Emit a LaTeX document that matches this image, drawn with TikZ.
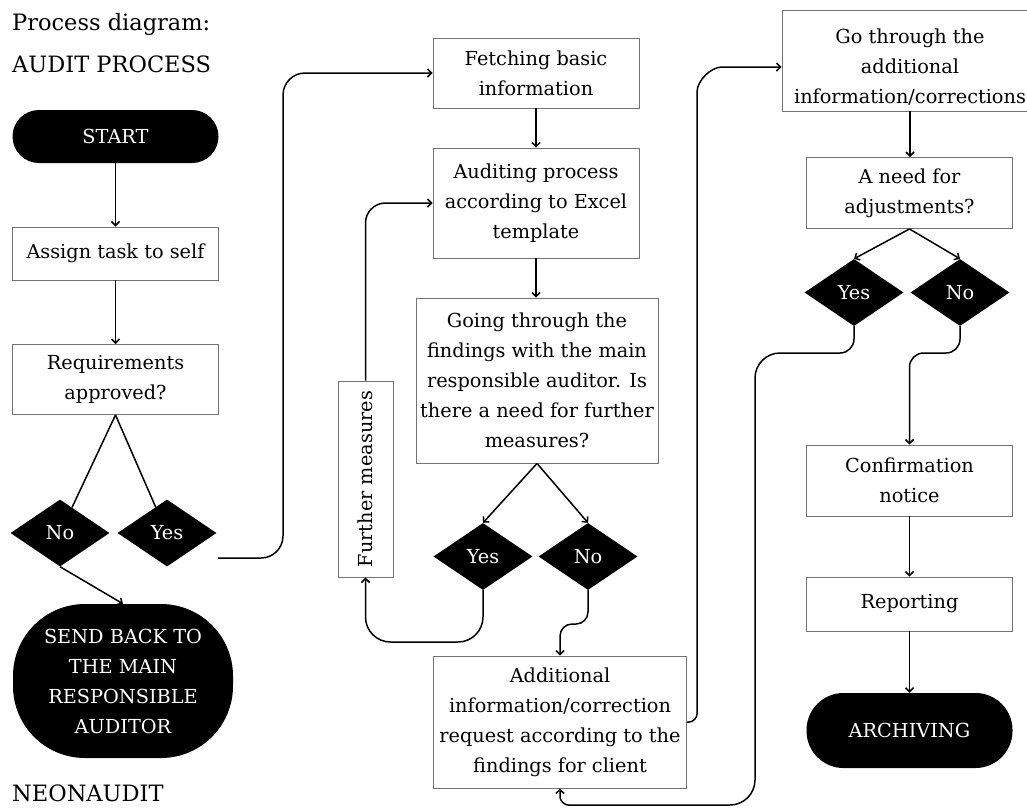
\documentclass[tikz,border=0pt]{standalone}
\usepackage{fontspec}
\setmainfont{DejaVu Serif}
\usetikzlibrary{shapes.geometric,arrows.meta,calc}

\begin{document}
\begin{tikzpicture}[x=1pt,y=-1pt,
  body/.style={font=\fontsize{19.3}{30}\selectfont},
  box/.style={body, draw=black!55, line width=0.9pt, fill=white, inner sep=0pt, align=center},
  term/.style={body, fill=black, text=white, inner sep=0pt, align=center},
  choice/.style={body, diamond, fill=black, text=white, inner sep=0pt,
    minimum width=99pt, minimum height=67pt},
  flow/.style={line width=1.5pt, -{Straight Barb[length=4pt,width=8pt]}},
  link/.style={line width=1.5pt},
  heading/.style={anchor=base west, inner sep=0pt, font=\fontsize{22.5}{26}\selectfont}
]
\useasboundingbox (0,0) rectangle (1027,807);

% headings
\node[heading] (h1) at (12,30) {Process diagram:};
\node[heading] (h2) at (12,72) {AUDIT PROCESS};
\node[heading] (h3) at (12,801) {NEONAUDIT};

% left column
\node[term, minimum width=206pt, minimum height=53pt, rounded corners=26.5pt] (start) at (115.5,136.5) {START};
\node[box, minimum width=206pt, minimum height=53pt] (assign) at (115.5,253.5) {Assign task to self};
\node[box, minimum width=206pt, minimum height=70pt] (req) at (115.5,379.5) {Requirements\\approved?};
\node[choice] (no1) at (60,533) {No};
\node[choice] (yes1) at (167,533) {Yes};
\node[term, minimum width=220pt, minimum height=154pt, rounded corners=72pt] (send) at (123,681)
  {SEND BACK TO\\THE MAIN\\RESPONSIBLE\\AUDITOR};

% middle column
\node[box, minimum width=206pt, minimum height=70pt] (fetch) at (536,73) {Fetching basic\\information};
\node[box, minimum width=206pt, minimum height=110pt] (audit) at (536,203) {Auditing process\\according to Excel\\template};
\node[box, minimum width=242pt, minimum height=165pt] (going) at (537,380.5)
  {Going through the\\findings with the main\\responsible auditor. Is\\there a need for further\\measures?};
\node[choice] (yes2) at (483,556.5) {Yes};
\node[choice] (no2) at (588,556.5) {No};
\node[box, minimum width=55pt, minimum height=196pt] (further) at (365.5,479) {\rotatebox{90}{Further measures}};
\node[box, minimum width=253pt, minimum height=132pt] (addl) at (560,722)
  {Additional\\information/correction\\request according to the\\findings for client};

% right column
\node[box, minimum width=256pt, minimum height=101pt] (go) at (910,60.5) {};
\node[body, align=center, inner sep=0pt] (gotext) at (910,67) {Go through the\\additional\\information/corrections};
\node[box, minimum width=206pt, minimum height=71pt] (need) at (909.5,193) {A need for\\adjustments?};
\node[choice] (yes3) at (854,292.5) {Yes};
\node[choice] (no3) at (960,292.5) {No};
\node[box, minimum width=206pt, minimum height=71pt] (conf) at (909.5,480.5) {Confirmation\\notice};
\node[box, minimum width=206pt, minimum height=54pt] (rep) at (909.5,604) {Reporting};
\node[term, minimum width=206pt, minimum height=75pt, rounded corners=37pt] (arch) at (909.5,730.5) {ARCHIVING};

% connectors, left column
\draw[flow] (start) -- (assign);
\draw[flow] (assign) -- (req);
\draw[link] (req.south) -- (no1);
\draw[link] (req.south) -- (yes1);
\draw[flow] (no1.south) -- (send.north);
\coordinate (yesout) at (218,558);
\draw[flow, rounded corners=22pt] (yesout) -- (283,558) -- (283,73) -- (fetch.west);

% connectors, middle column
\draw[flow] (fetch) -- (audit);
\draw[flow] (audit.south) -- (audit.south |- going.north);
\draw[flow] (going.south) -- (yes2.north);
\draw[flow] (going.south) -- (no2.north);
\draw[flow, rounded corners=25pt] (yes2.south) -- (483,642) -- (365.5,642) -- (further.south);
\draw[flow, rounded corners=20pt] (further.north) -- (365.5,203) -- (audit.west);
\draw[flow, rounded corners=12pt] (no2.south) -- (588,624) -| (addl.north);
\draw[flow] (addl.east) -- (689,722) .. controls (693.4,722) and (697,717.6) .. (697,714)
  -- (697,92) .. controls (697,80.75) and (710.75,67) .. (722,67) -- (go.west |- gotext);

% connectors, right column
\draw[flow] (go.south) -- (go.south |- need.north);
\draw[flow] (need.south) -- (yes3.north);
\draw[flow] (need.south) -- (no3.north);
\draw[flow, rounded corners=14pt] (no3.south) -- (960,353) -| (conf.north);
\draw[flow] (conf) -- (rep);
\draw[flow] (rep) -- (arch);
\draw[flow] (yes3.south) -- (854,339) .. controls (854,346.7) and (847.7,353) .. (840,353)
  -- (780,353) .. controls (766.25,353) and (755,364.25) .. (755,378)
  -- (755,780) .. controls (755,793.75) and (743.75,805) .. (730,805)
  -- (568,805) .. controls (564.4,805) and (560,800.6) .. (560,797) -- (addl.south);
\end{tikzpicture}
\end{document}
